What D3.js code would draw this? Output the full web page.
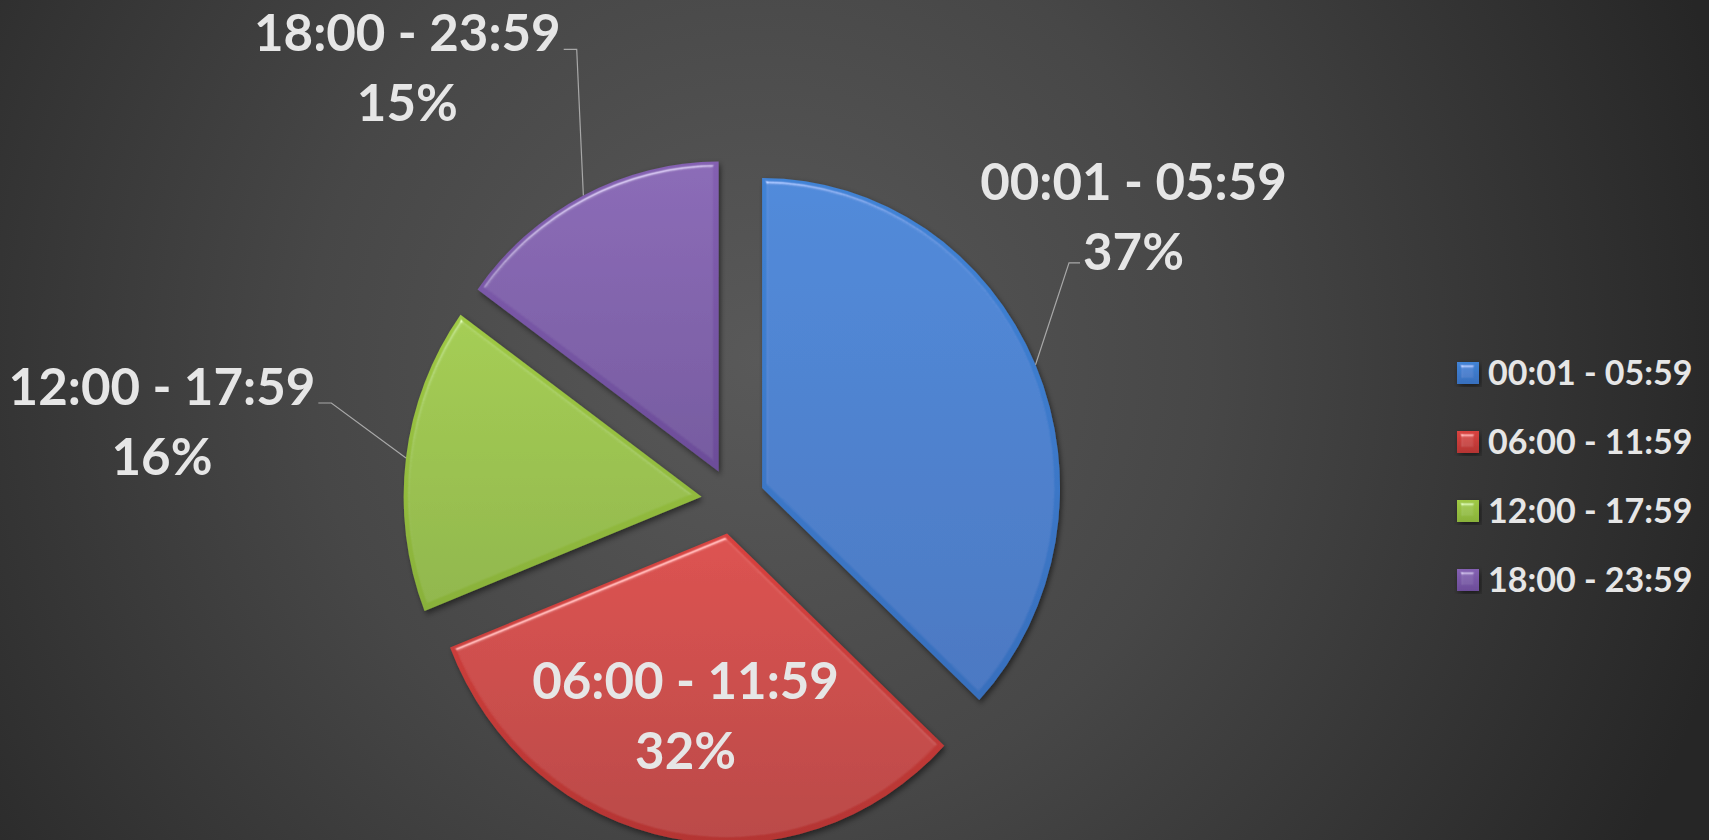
<!DOCTYPE html>
<html>

<head>
  <meta charset="UTF-8" />
  <title>Time of day pie</title>
  <style>
    html,
    body {
      margin: 0;
      padding: 0;
      background: #333;
      overflow: hidden;
    }

    svg text {
      font-family: Lato, "Open Sans", sans-serif;
      font-weight: 700;
      fill: #e6e6e6;
    }
  </style>
  <script src="https://cdn.jsdelivr.net/npm/d3@7"></script>
</head>

<body>
  <svg id="chart"></svg>
  <script>
    // data
    const categories = ["00:01 - 05:59", "06:00 - 11:59", "12:00 - 17:59", "18:00 - 23:59"];
    const values = [37, 32, 16, 15];
    const colorsTop = ["#4083d6", "#d9423f", "#9fc944", "#8460b2"];
    const colorsBottom = ["#386fbd", "#b43533", "#89b13a", "#6c4d99"];

    const W = 1709, H = 840;
    const cx = 733, cy = 501, r = 310, sx = 0.961, explode = 33;

    // label placement relative to the slice's outer arc point (screen px)
    const labelLayout = [
      { dx: 98, dy: -165, leader: "left2" },
      { inside: true, k: 0.6 },
      { dx: -244, dy: -53, leader: "right1" },
      { dx: -176, dy: -144, leader: "right1" }
    ];

    const labelSize = 51, lineGap = 70;

    const svg = d3.select("#chart").attr("width", W).attr("height", H);
    const defs = svg.append("defs");

    /* background */
    const bg = defs.append("radialGradient").attr("id", "bg")
      .attr("gradientUnits", "userSpaceOnUse")
      .attr("cx", 760).attr("cy", 360).attr("r", 1000);
    bg.append("stop").attr("offset", 0).attr("stop-color", "#595959");
    bg.append("stop").attr("offset", 0.45).attr("stop-color", "#474747");
    bg.append("stop").attr("offset", 1).attr("stop-color", "#262626");
    svg.append("rect").attr("width", W).attr("height", H).attr("fill", "url(#bg)");

    /* slice gradients */
    categories.forEach((c, i) => {
      const g = defs.append("linearGradient").attr("id", "grad" + i)
        .attr("x1", 0).attr("y1", 0).attr("x2", 0).attr("y2", 1);
      g.append("stop").attr("offset", 0).attr("stop-color", colorsTop[i]);
      g.append("stop").attr("offset", 1).attr("stop-color", colorsBottom[i]);
    });

    /* bevel + shadow filter: highlight only on the sloped rim */
    const f = defs.append("filter").attr("id", "bevel")
      .attr("x", "-10%").attr("y", "-10%").attr("width", "120%").attr("height", "120%");
    f.append("feGaussianBlur").attr("in", "SourceAlpha").attr("stdDeviation", 2.5).attr("result", "blur");
    const spec = f.append("feSpecularLighting").attr("in", "blur").attr("surfaceScale", 4)
      .attr("specularConstant", 0.7).attr("specularExponent", 40)
      .attr("lighting-color", "#ffffff").attr("result", "spec");
    spec.append("feDistantLight").attr("azimuth", 250).attr("elevation", 50);
    f.append("feComposite").attr("in", "spec").attr("in2", "SourceAlpha").attr("operator", "in").attr("result", "specIn");
    f.append("feComposite").attr("in", "SourceGraphic").attr("in2", "specIn")
      .attr("operator", "arithmetic").attr("k1", 0).attr("k2", 1).attr("k3", 0.6).attr("k4", 0).attr("result", "lit");
    f.append("feDropShadow").attr("in", "lit").attr("dx", 2).attr("dy", 3)
      .attr("stdDeviation", 3).attr("flood-color", "#000").attr("flood-opacity", 0.5);

    const pie = d3.pie().sort(null).value(d => d);
    const arcs = pie(values);
    const arc = d3.arc().innerRadius(0).outerRadius(r);
    const total = d3.sum(values);

    const mid = d => (d.startAngle + d.endAngle) / 2;

    // screen position of a point at angle a, radius rr, in the exploded slice
    function screenPt(d, a, rr) {
      const m = mid(d);
      return [
        cx + sx * (explode * Math.sin(m) + rr * Math.sin(a)),
        cy - explode * Math.cos(m) - rr * Math.cos(a)
      ];
    }

    /* slices */
    const pieG = svg.append("g").attr("transform", `translate(${cx},${cy}) scale(${sx},1)`);
    pieG.selectAll("path.slice")
      .data(arcs)
      .enter()
      .append("path")
      .attr("class", "slice")
      .attr("d", arc)
      .attr("fill", (d, i) => `url(#grad${i})`)
      .attr("filter", "url(#bevel)")
      .attr("transform", d => `translate(${explode * Math.sin(mid(d))},${-explode * Math.cos(mid(d))})`);

    /* data labels */
    const labelsG = svg.append("g");
    arcs.forEach((d, i) => {
      const lay = labelLayout[i];
      const pct = Math.round(d.data / total * 100) + "%";
      let lx, base1;
      if (lay.inside) {
        const p = screenPt(d, mid(d), r * lay.k);
        lx = p[0] - 8;
        base1 = p[1] - lineGap / 2 + 18;
      } else {
        const p = screenPt(d, mid(d), r);
        lx = p[0] + lay.dx;
        base1 = p[1] + lay.dy;
      }
      const t1 = labelsG.append("text").attr("x", lx).attr("y", base1)
        .attr("text-anchor", "middle").attr("font-size", labelSize).text(categories[i]);
      const t2 = labelsG.append("text").attr("x", lx).attr("y", base1 + lineGap)
        .attr("text-anchor", "middle").attr("font-size", labelSize).text(pct);

      if (lay.leader) {
        const p = screenPt(d, mid(d), r);
        let pts;
        if (lay.leader === "left2") {
          const w2 = t2.node().getComputedTextLength();
          const ex = lx - w2 / 2 - 3, ey = base1 + lineGap - 7;
          pts = [p, [ex - 11, ey], [ex, ey]];
        } else {
          const w1 = t1.node().getComputedTextLength();
          const ex = lx + w1 / 2 + 3, ey = base1 - 2;
          pts = [p, [ex + 13, ey], [ex, ey]];
        }
        labelsG.append("path")
          .attr("d", d3.line()(pts))
          .attr("fill", "none")
          .attr("stroke", "#a8a8a8")
          .attr("stroke-width", 1.2);
      }
    });

    /* legend */
    const legendX = 1457, legendY = 373, legendStep = 69, box = 22;
    const legend = svg.append("g");
    categories.forEach((c, i) => {
      const y = legendY + i * legendStep;
      legend.append("rect")
        .attr("x", legendX).attr("y", y - box / 2)
        .attr("width", box).attr("height", box)
        .attr("fill", `url(#grad${i})`)
        .attr("filter", "url(#bevel)");
      legend.append("text")
        .attr("x", legendX + box + 9).attr("y", y + 12)
        .attr("font-size", 34)
        .text(c);
    });
  </script>
</body>

</html>
